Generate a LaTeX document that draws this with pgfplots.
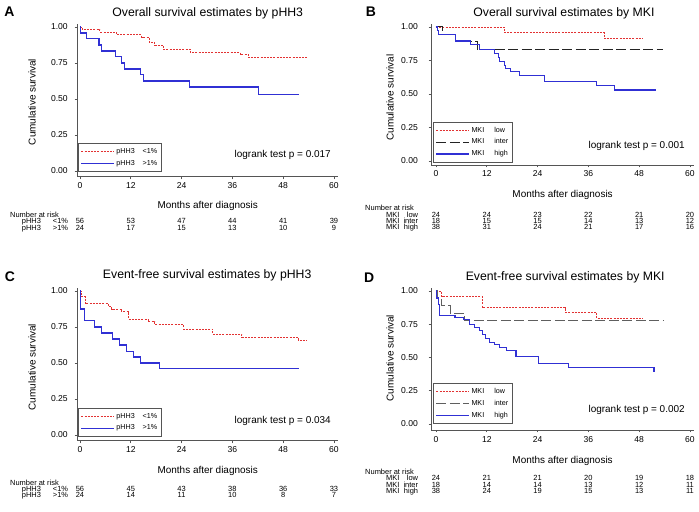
\documentclass[border=0pt]{standalone}
\usepackage{fontspec}
\setmainfont{Liberation Sans}
\usepackage{pgfplots}
\usepackage{pgfplotstable}
\pgfplotsset{compat=1.18}

\definecolor{kmred}{RGB}{226,50,50}
\definecolor{kmblue}{RGB}{48,48,212}
\definecolor{kmblack}{RGB}{35,35,35}
\definecolor{kmgray}{RGB}{95,95,95}
\definecolor{axgray}{RGB}{85,85,85}

% ---------- Panel A: overall survival by pHH3 ----------
\pgfplotstableread{
t s
0 1.000
0.5 0.982
4.7 0.964
8.7 0.946
14.6 0.929
16.3 0.893
17.7 0.875
19.7 0.845
26.0 0.824
37.8 0.810
39.8 0.787
53.9 0.787
}\Ared
\pgfplotstableread{
t s
0 1.000
0.2 0.958
1.6 0.917
4.5 0.875
5.0 0.833
8.3 0.792
9.7 0.750
10.5 0.708
14.2 0.667
15.0 0.625
25.8 0.583
42.1 0.530
51.8 0.530
}\Ablue
% ---------- Panel B: overall survival by MKI ----------
\pgfplotstableread{
t s
0 1.000
16.1 0.958
39.7 0.913
48.8 0.913
}\Bred
\pgfplotstableread{
t s
0 1.000
1.5 0.944
4.7 0.889
9.8 0.833
53.7 0.833
}\Bblack
\pgfplotstableread{
t s
0 1.000
0.3 0.974
0.5 0.947
4.7 0.895
8.2 0.868
10.2 0.829
13.9 0.800
14.7 0.770
15.1 0.745
16.1 0.715
16.5 0.690
17.6 0.665
19.7 0.635
25.7 0.590
38.0 0.560
42.1 0.530
51.9 0.530
}\Bblue
% ---------- Panel C: event-free survival by pHH3 ----------
\pgfplotstableread{
t s
0 1.000
0.3 0.964
1.2 0.911
6.7 0.893
7.5 0.875
9.8 0.857
11.4 0.804
16.1 0.786
17.7 0.768
24.4 0.736
31.3 0.700
38.2 0.678
51.6 0.660
53.7 0.660
}\Cred
\pgfplotstableread{
t s
0 1.000
0.1 0.875
1.0 0.792
3.4 0.750
5.0 0.708
7.6 0.667
9.4 0.625
11.0 0.583
12.6 0.542
14.2 0.500
18.7 0.460
51.8 0.460
}\Cblue
% ---------- Panel D: event-free survival by MKI ----------
\pgfplotstableread{
t s
0 1.000
1.3 0.958
10.9 0.875
30.5 0.840
38.0 0.795
49.0 0.795
}\Dred
\pgfplotstableread{
t s
0 1.000
0.3 0.944
1.3 0.889
3.4 0.833
6.8 0.778
53.7 0.778
}\Dblack
\pgfplotstableread{
t s
0 1.000
0.2 0.947
0.5 0.895
0.9 0.816
4.5 0.800
6.5 0.785
7.9 0.750
9.2 0.724
10.2 0.700
11.0 0.670
11.6 0.640
12.6 0.615
13.9 0.600
15.1 0.575
16.7 0.550
18.9 0.505
24.3 0.455
31.3 0.425
51.5 0.393
51.7 0.393
}\Dblue

\tikzset{
  redline/.style={draw=kmred, line width=0.9bp, dash pattern=on 2bp off 1.2bp},
  blueline/.style={draw=kmblue, line width=1.1bp, solid},
  blackline/.style={draw=kmblack, line width=1bp, dash pattern=on 10bp off 3.5bp},
  grayline/.style={draw=kmgray, line width=1bp, dash pattern=on 10bp off 3.5bp},
  risk/.style={anchor=base, inner sep=0pt, font=\fontsize{7.5}{8}\selectfont},
  risklab/.style={inner sep=0pt, font=\fontsize{7.5}{8}\selectfont},
  letter/.style={anchor=center, inner sep=0pt, font=\bfseries\fontsize{14}{16}\selectfont},
  logrank/.style={anchor=east, inner sep=0pt, font=\fontsize{10}{12}\selectfont},
}

\pgfplotsset{
  km/.style={
    scale only axis,
    anchor=south west,
    axis x line=bottom, axis y line=left,
    axis line style={-, axgray, line width=0.7bp},
    tick style={axgray, line width=0.6bp},
    tick align=outside,
    major tick length=2.5bp,
    xtick={0,12,24,36,48,60},
    ytick={0,0.25,0.5,0.75,1},
    xmax=61, ymax=1.02,
    const plot,
    clip=false,
    every axis title shift=0pt,
    /pgf/number format/assume math mode=true,
    tick label style={font=\fontsize{8.6}{10}\selectfont, text=black},
    yticklabel style={/pgf/number format/fixed, /pgf/number format/fixed zerofill, /pgf/number format/precision=2},
    label style={font=\fontsize{10}{12}\selectfont},
    title style={font=\fontsize{12.3}{14}\selectfont, anchor=center},
    xlabel={Months after diagnosis},
    ylabel={Cumulative survival},
    legend cell align=left,
    legend image code/.code={\draw[##1] (0bp,0bp) -- (33bp,0bp);},
    legend style={anchor=south west, draw=axgray, line width=0.6bp, fill=white,
      inner xsep=2.5bp, inner ysep=3bp, row sep=2.2bp,
      font=\fontsize{7.2}{8}\selectfont,
      nodes={inner sep=1.5bp, text height=5.2bp, text depth=1.5bp},
      /tikz/every even column/.append style={column sep=3bp}},
  },
}

\newcommand\riskrow[3]{\foreach \v [count=\i from 0] in {#3} {\node[risk] at ({(#1+50.8*\i)*1bp},#2bp) {\v};}}

\begin{document}
\begin{tikzpicture}
\useasboundingbox (0,0) rectangle (699bp,512bp);

% ===== A =====
\begin{axis}[km, at={(77.25bp,335.2bp)}, width=260.9bp, height=152.7bp,
  xmin=-0.65, ymin=-0.04,
  title={Overall survival estimates by pHH3},
  title style={at={(axis description cs:0.5,1.073)}},
  xlabel style={at={(axis description cs:0.5,-0.191)}, anchor=center},
  ylabel style={at={(axis description cs:-0.173,0.49)}, anchor=center},
  yticklabel style={xshift=-3.5bp},
  legend style={at={(axis description cs:0.003,0.035)}},
]
\addplot[redline] table[x=t,y=s] {\Ared};
\addlegendentry{pHH3\hspace{1.1em}<1\%}
\addplot[blueline] table[x=t,y=s] {\Ablue};
\addlegendentry{pHH3\hspace{1.1em}>1\%}
\node[logrank] at (axis cs:59.3,0.111) {logrank test p = 0.017};
\end{axis}

% ===== B =====
\begin{axis}[km, at={(431bp,347bp)}, width=263.2bp, height=140.7bp,
  xmin=-1.18, ymin=-0.03,
  title={Overall survival estimates by MKI},
  title style={at={(axis description cs:0.505,1.080)}},
  xlabel style={at={(axis description cs:0.5,-0.213)}, anchor=center},
  ylabel style={at={(axis description cs:-0.156,0.48)}, anchor=center},
  yticklabel style={xshift=-7.2bp},
  legend style={at={(axis description cs:0.008,0.02)}},
]
\addplot[redline] table[x=t,y=s] {\Bred};
\addlegendentry{MKI\hspace{1.4em}low}
\addplot[blackline] table[x=t,y=s] {\Bblack};
\addlegendentry{MKI\hspace{1.4em}inter}
\addplot[blueline] table[x=t,y=s] {\Bblue};
\addlegendentry{MKI\hspace{1.4em}high}
\node[logrank] at (axis cs:58.8,0.112) {logrank test p = 0.001};
\end{axis}

% ===== C =====
\begin{axis}[km, at={(77.25bp,71.2bp)}, width=260.9bp, height=152.7bp,
  xmin=-0.65, ymin=-0.04,
  title={Event-free survival estimates by pHH3},
  title style={at={(axis description cs:0.498,1.086)}},
  xlabel style={at={(axis description cs:0.5,-0.198)}, anchor=center},
  ylabel style={at={(axis description cs:-0.173,0.483)}, anchor=center},
  yticklabel style={xshift=-3.5bp},
  legend style={at={(axis description cs:0.003,0.03)}},
]
\addplot[redline] table[x=t,y=s] {\Cred};
\addlegendentry{pHH3\hspace{1.1em}<1\%}
\addplot[blueline] table[x=t,y=s] {\Cblue};
\addlegendentry{pHH3\hspace{1.1em}>1\%}
\node[logrank] at (axis cs:59.3,0.097) {logrank test p = 0.034};
\end{axis}

% ===== D =====
\begin{axis}[km, at={(431bp,82bp)}, width=263.2bp, height=141.7bp,
  xmin=-1.18, ymin=-0.045,
  title={Event-free survival estimates by MKI},
  title style={at={(axis description cs:0.51,1.08)}},
  xlabel style={at={(axis description cs:0.5,-0.219)}, anchor=center},
  ylabel style={at={(axis description cs:-0.156,0.508)}, anchor=center},
  yticklabel style={xshift=-7.2bp},
  legend style={at={(axis description cs:0.008,0.047)}},
]
\addplot[redline] table[x=t,y=s] {\Dred};
\addlegendentry{MKI\hspace{1.4em}low}
\addplot[grayline] table[x=t,y=s] {\Dblack};
\addlegendentry{MKI\hspace{1.4em}inter}
\addplot[blueline] table[x=t,y=s] {\Dblue};
\addlegendentry{MKI\hspace{1.4em}high}
\node[logrank] at (axis cs:58.8,0.105) {logrank test p = 0.002};
\end{axis}

% ===== panel letters =====
\node[letter] at (9.5bp,500.3bp) {A};
\node[letter] at (370.8bp,500.3bp) {B};
\node[letter] at (10bp,235.3bp) {C};
\node[letter] at (369.2bp,234.2bp) {D};

% ===== numbers at risk: A =====
\node[risklab, anchor=base west] at (10bp,294.3bp) {Number at risk};
\node[risklab, anchor=base west] at (21.7bp,288bp) {pHH3};
\node[risklab, anchor=base east] at (68.3bp,288bp) {<1\%};
\riskrow{80}{288}{56,53,47,44,41,39}
\node[risklab, anchor=base west] at (21.7bp,281.8bp) {pHH3};
\node[risklab, anchor=base east] at (68.3bp,281.8bp) {>1\%};
\riskrow{80}{281.8}{24,17,15,13,10,9}

% ===== numbers at risk: B =====
\node[risklab, anchor=base west] at (365bp,301.2bp) {Number at risk};
\node[risklab, anchor=base west] at (386bp,294.8bp) {MKI};
\node[risklab, anchor=base east] at (418.3bp,294.8bp) {low};
\riskrow{436}{294.8}{24,24,23,22,21,20}
\node[risklab, anchor=base west] at (386bp,288.5bp) {MKI};
\node[risklab, anchor=base east] at (418.3bp,288.5bp) {inter};
\riskrow{436}{288.5}{18,15,15,14,13,12}
\node[risklab, anchor=base west] at (386bp,282.2bp) {MKI};
\node[risklab, anchor=base east] at (418.3bp,282.2bp) {high};
\riskrow{436}{282.2}{38,31,24,21,17,16}

% ===== numbers at risk: C =====
\node[risklab, anchor=base west] at (10bp,27bp) {Number at risk};
\node[risklab, anchor=base west] at (21.7bp,20.7bp) {pHH3};
\node[risklab, anchor=base east] at (68.3bp,20.7bp) {<1\%};
\riskrow{80}{20.7}{56,45,43,38,36,33}
\node[risklab, anchor=base west] at (21.7bp,14.5bp) {pHH3};
\node[risklab, anchor=base east] at (68.3bp,14.5bp) {>1\%};
\riskrow{80}{14.5}{24,14,11,10,8,7}

% ===== numbers at risk: D =====
\node[risklab, anchor=base west] at (365bp,37.5bp) {Number at risk};
\node[risklab, anchor=base west] at (386bp,31.2bp) {MKI};
\node[risklab, anchor=base east] at (418.3bp,31.2bp) {low};
\riskrow{436}{31.2}{24,21,21,20,19,18}
\node[risklab, anchor=base west] at (386bp,25bp) {MKI};
\node[risklab, anchor=base east] at (418.3bp,25bp) {inter};
\riskrow{436}{25}{18,14,14,13,12,11}
\node[risklab, anchor=base west] at (386bp,18.8bp) {MKI};
\node[risklab, anchor=base east] at (418.3bp,18.8bp) {high};
\riskrow{436}{18.8}{38,24,19,15,13,11}
\end{tikzpicture}
\end{document}
